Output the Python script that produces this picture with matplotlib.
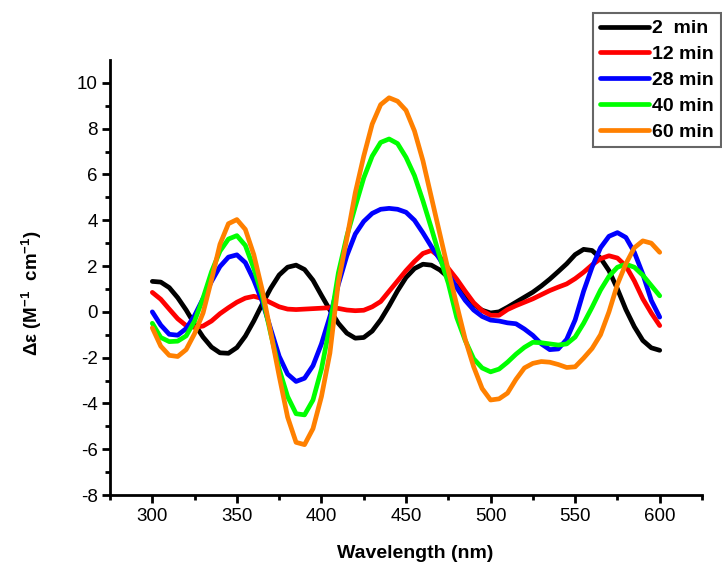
import numpy as np
import matplotlib.pyplot as plt

# wavelength grid (nm)
wl = np.arange(300, 601, 5)

# CD spectra, one list per time point
cd_2min = [1.33, 1.30, 1.06, 0.62, 0.08, -0.54, -1.10, -1.54, -1.79, -1.81,
           -1.56, -1.06, -0.40, 0.34, 1.03, 1.61, 1.95, 2.04, 1.85, 1.38,
           0.72, 0.08, -0.50, -0.93, -1.15, -1.12, -0.84, -0.35, 0.26, 0.92,
           1.50, 1.89, 2.08, 2.04, 1.83, 1.51, 1.11, 0.69, 0.33, 0.07,
           -0.05, 0.00, 0.20, 0.42, 0.64, 0.86, 1.13, 1.43, 1.76, 2.10,
           2.50, 2.73, 2.68, 2.35, 1.80, 1.00, 0.10, -0.65, -1.25, -1.57,
           -1.68]
cd_12min = [0.85, 0.55, 0.12, -0.30, -0.60, -0.68, -0.62, -0.40, -0.08, 0.18,
            0.42, 0.60, 0.68, 0.58, 0.40, 0.22, 0.12, 0.10, 0.12, 0.14,
            0.16, 0.18, 0.15, 0.08, 0.05, 0.07, 0.22, 0.45, 0.90, 1.35,
            1.80, 2.20, 2.55, 2.68, 2.40, 1.90, 1.43, 0.90, 0.40, 0.05,
            -0.15, -0.15, 0.10, 0.27, 0.42, 0.57, 0.75, 0.93, 1.08, 1.22,
            1.45, 1.73, 2.05, 2.32, 2.45, 2.35, 2.00, 1.35, 0.57, -0.05,
            -0.60]
cd_28min = [0.00, -0.58, -0.98, -1.02, -0.73, -0.16, 0.58, 1.33, 1.98, 2.39,
            2.49, 2.15, 1.39, 0.45, -0.75, -1.94, -2.72, -3.04, -2.90, -2.35,
            -1.40, -0.20, 1.20, 2.45, 3.40, 3.95, 4.30, 4.48, 4.52, 4.48,
            4.35, 4.00, 3.45, 2.85, 2.30, 1.65, 1.05, 0.50, 0.08, -0.20,
            -0.36, -0.40, -0.48, -0.52, -0.75, -1.03, -1.40, -1.65, -1.62, -1.20,
            -0.35, 0.90, 1.95, 2.80, 3.30, 3.46, 3.25, 2.60, 1.65, 0.50,
            -0.23]
cd_40min = [-0.50, -1.12, -1.30, -1.28, -1.05, -0.40, 0.60, 1.75, 2.65, 3.18,
            3.33, 2.90, 1.90, 0.70, -0.95, -2.50, -3.70, -4.45, -4.50, -3.85,
            -2.50, -0.60, 1.70, 3.30, 4.60, 5.85, 6.80, 7.40, 7.55, 7.35,
            6.75, 5.95, 4.85, 3.65, 2.40, 1.25, -0.25, -1.25, -2.05, -2.45,
            -2.62, -2.50, -2.20, -1.85, -1.55, -1.33, -1.35, -1.40, -1.45, -1.40,
            -1.10, -0.50, 0.20, 0.95, 1.55, 1.95, 2.08, 1.95, 1.60, 1.15,
            0.70]
cd_60min = [-0.70, -1.50, -1.90, -1.95, -1.65, -0.95, -0.05, 1.40, 2.95, 3.85,
            4.03, 3.60, 2.50, 0.95, -0.90, -2.80, -4.60, -5.70, -5.80, -5.10,
            -3.70, -1.80, 1.30, 3.20, 5.20, 6.80, 8.20, 9.05, 9.35, 9.20,
            8.80, 7.90, 6.60, 5.00, 3.40, 1.80, 0.30, -1.20, -2.40, -3.35,
            -3.85, -3.80, -3.55, -2.95, -2.45, -2.25, -2.17, -2.20, -2.30, -2.43,
            -2.40, -2.02, -1.60, -1.00, 0.00, 1.20, 2.10, 2.80, 3.10, 3.00,
            2.60]

labels = ['2  min', '12 min', '28 min', '40 min', '60 min']
colors = ['#000000', '#ff0000', '#0000ff', '#00ff00', '#ff8000']
series = [cd_2min, cd_12min, cd_28min, cd_40min, cd_60min]

plt.rcParams['font.family'] = ['Liberation Sans', 'DejaVu Sans']
plt.rcParams['axes.unicode_minus'] = False
plt.rcParams['mathtext.fontset'] = 'custom'
plt.rcParams['mathtext.rm'] = 'Liberation Sans'
plt.rcParams['mathtext.bf'] = 'Liberation Sans:bold'

fig = plt.figure(figsize=(7.22, 5.72), dpi=100)
ax = fig.add_axes([0.1524, 0.1346, 0.8199, 0.7605])

for y, c, lab in zip(series, colors, labels):
    ax.plot(wl, y, color=c, lw=3.4, label=lab, solid_capstyle='round')

ax.set_xlim(275, 625)
ax.set_ylim(-8, 11)
ax.set_xticks([300, 350, 400, 450, 500, 550, 600])
ax.set_xticks(np.arange(275, 626, 50), minor=True)
ax.set_yticks(np.arange(-8, 11, 2))
ax.set_yticks(np.arange(-7, 11, 2), minor=True)

for s in ['top', 'right']:
    ax.spines[s].set_visible(False)
for s in ['left', 'bottom']:
    ax.spines[s].set_linewidth(2.0)

ax.tick_params(which='major', direction='out', length=6, width=2, labelsize=13.5, pad=3)
ax.tick_params(which='minor', direction='out', length=3.5, width=2)

ax.set_xlabel('Wavelength (nm)', fontsize=14, fontweight='bold')
ax.xaxis.set_label_coords(0.515, -0.115)
ax.set_ylabel('Δε (M$^{\\mathbf{-1}}$  cm$^{\\mathbf{-1}}$)',
              fontsize=13.5, fontweight='bold')
ax.yaxis.set_label_coords(-0.112, 0.465)

leg = ax.legend(loc='upper left', bbox_to_anchor=(593 / 722, 1 - 13 / 572),
                bbox_transform=fig.transFigure, fontsize=14, frameon=True,
                fancybox=False, handlelength=2.55, handletextpad=0.15,
                labelspacing=0.42, borderpad=0.35, borderaxespad=0)
leg.get_frame().set_edgecolor('#404040')
leg.get_frame().set_linewidth(1.5)
for t in leg.get_texts():
    t.set_fontweight('bold')

fig.savefig('out.png', dpi=100)
